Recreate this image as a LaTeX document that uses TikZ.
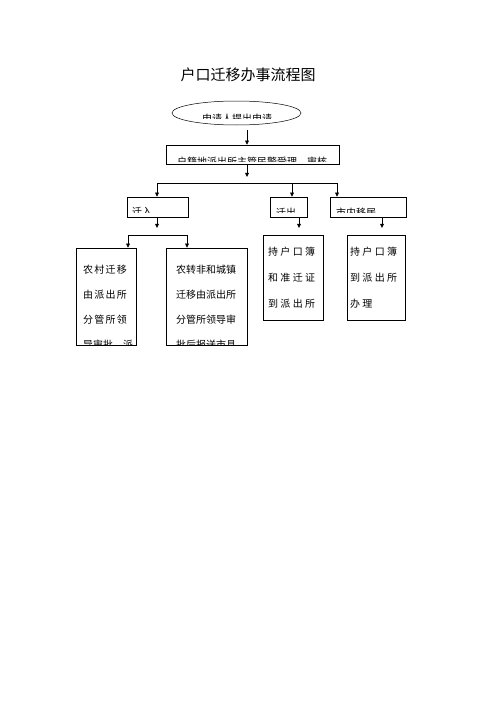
\documentclass[tikz,border=0pt]{standalone}
\usepackage{fontspec}
\setmainfont{Noto Sans CJK SC}
\newfontfamily\cjk{Noto Sans CJK SC}
\newfontfamily\cjkwide[LetterSpace=12.5]{Noto Sans CJK SC}
\newfontfamily\cjkwider[LetterSpace=23]{Noto Sans CJK SC}
\usetikzlibrary{arrows.meta, shapes.geometric}

% texte coupe par le bas de son cadre
\newcommand{\inbox}[5]{%
  \begin{scope}
    \clip (#1.west |- #1.north) rectangle (#1.east |- 0,#2);
    \node[txt, #3] (#1-text) at (#4) {#5};
  \end{scope}}

\begin{document}
\begin{tikzpicture}[
  x=1.2pt, y=-1.2pt,
  font={\cjk\fontsize{12pt}{30pt}\selectfont},
  box/.style={draw, line width=0.6pt, rectangle, inner sep=0pt},
  oval/.style={draw, line width=0.6pt, ellipse, inner sep=0pt},
  txt/.style={anchor=north west, inner sep=0pt, align=left},
  wide/.style={font={\cjkwide\fontsize{12pt}{30pt}\selectfont}},
  wider/.style={font={\cjkwider\fontsize{12pt}{31.2pt}\selectfont}},
  arrow/.style={-{Triangle[length=5pt, width=4.5pt]}, line width=0.6pt},
  line/.style={line width=0.6pt}
]
\path[use as bounding box, fill=white] (0,0) rectangle (496,702);

% Titre
\node[font={\cjk\fontsize{18pt}{20pt}\selectfont}] (title) at (248,75) {户口迁移办事流程图};

% Cadres
\node[oval, minimum width=154.8pt, minimum height=28.8pt] (apply) at (236.5,113) {};
\node[box, minimum width=207.6pt, minimum height=22.8pt] (accept) at (252.5,154.5) {};
\node[box, minimum width=73.2pt, minimum height=24pt] (movein) at (157.5,207) {};
\node[box, minimum width=44.4pt, minimum height=24pt] (moveout) at (288.5,207) {};
\node[box, minimum width=91.2pt, minimum height=24pt] (local) at (368,207) {};
\node[box, minimum width=72pt, minimum height=116.4pt] (rural) at (106,296.5) {};
\node[box, minimum width=97.2pt, minimum height=116.4pt] (urban) at (206.5,296.5) {};
\node[box, minimum width=72pt, minimum height=102pt] (outcard) at (293,277.5) {};
\node[box, minimum width=69.6pt, minimum height=102pt] (localcard) at (376,277.5) {};

% Textes
\inbox{apply}{118.5}{}{202,113.5}{申请人提出申请}
\inbox{accept}{161.5}{}{177,157}{户籍地派出所主管民警受理、审核}
\inbox{movein}{212}{}{132,207.5}{迁入}
\inbox{moveout}{212}{}{276,207.5}{迁出}
\inbox{local}{212}{}{336,207.5}{市内移居}
\inbox{rural}{344.3}{wide}{83,265}{农村迁移\\由派出所\\分管所领\\{\cjk 导审批，派}}
\inbox{urban}{344.3}{}{176,265}{农转非和城镇\\迁移由派出所\\分管所领导审\\批后报送市县}
\node[txt, wider] (outcard-text) at (268,247) {持户口簿\\和准迁证\\到派出所};
\node[txt, wider] (localcard-text) at (350,247) {持户口簿\\到派出所\\办理};

% Points
\coordinate (j1) at (247,130);
\coordinate (j2) at (247,177);
\coordinate (barL) at (157,183);
\coordinate (barM) at (292,183);
\coordinate (barR) at (337,183);
\coordinate (k1) at (157,228);
\coordinate (k2) at (299,228);
\coordinate (k3) at (382,228);
\coordinate (bar2L) at (128,235);
\coordinate (bar2R) at (187,235);

% Fleches
\draw[arrow] (j1) -- (j1 |- accept.north);
\draw[arrow] (accept.south -| j2) -- (j2);
\draw[line] (barL) -- (barR);
\draw[arrow] (barL) -- (barL |- movein.north);
\draw[arrow] (barM) -- (barM |- moveout.north);
\draw[arrow] (barR) -- (barR |- local.north);
\draw[arrow] (movein.south -| k1) -- (k1);
\draw[line] (bar2L) -- (bar2R);
\draw[arrow] (bar2L) -- (bar2L |- rural.north);
\draw[arrow] (bar2R) -- (bar2R |- urban.north);
\draw[arrow] (moveout.south -| k2) -- (k2);
\draw[arrow] (local.south -| k3) -- (k3);

\end{tikzpicture}
\end{document}
